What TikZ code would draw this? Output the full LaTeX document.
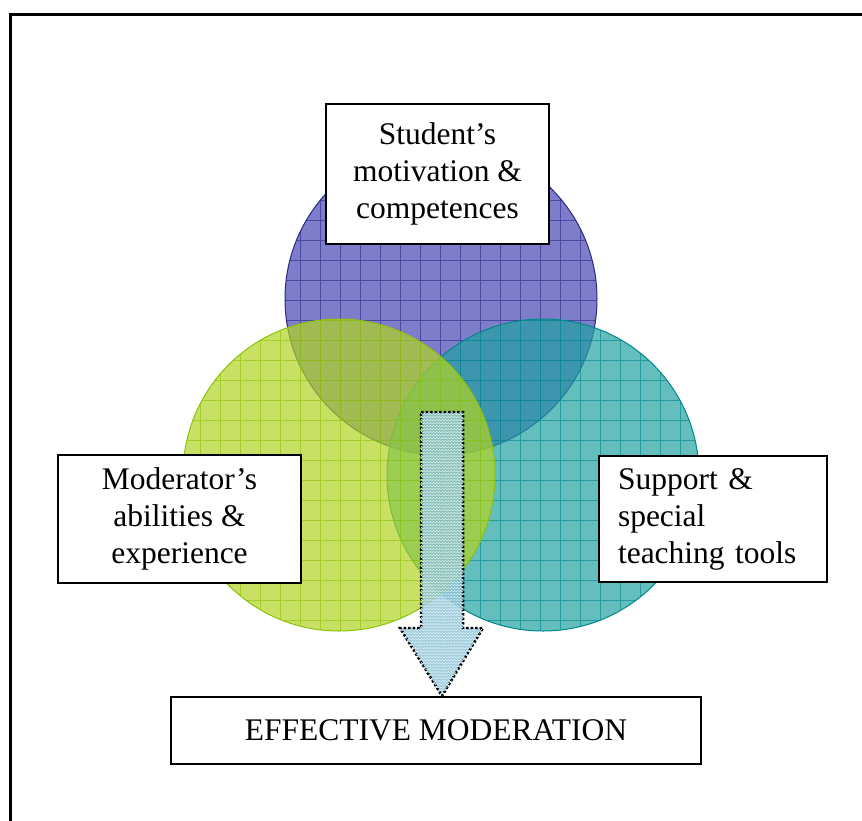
\documentclass[tikz,border=0pt]{standalone}
\usepackage{fontspec}
\setmainfont{Liberation Serif}
\usetikzlibrary{patterns}

\definecolor{studblue}{RGB}{70,70,178}
\definecolor{studline}{RGB}{40,40,135}
\definecolor{modgreen}{RGB}{177,212,34}
\definecolor{modline}{RGB}{140,195,10}
\definecolor{supteal}{RGB}{34,162,162}
\definecolor{supline}{RGB}{0,135,140}
\definecolor{arrowblue}{RGB}{140,195,215}

\tikzset{
  labelbox/.style  = {shape=rectangle, draw, line width=2pt, fill=white,
                      inner sep=0pt, font=\fontsize{31.5}{37}\selectfont},
  frameline/.style = {line width=3pt},
  arrowbody/.style = {fill=arrowblue, fill opacity=0.8, draw=black,
                      line width=2.5pt, dash pattern=on 2.5pt off 2pt,
                      postaction={pattern=crosshatch,
                                  pattern color=white!70!arrowblue}}
}

\begin{document}
\begin{tikzpicture}[x=1pt, y=-1pt]
\useasboundingbox (0,0) rectangle (862,820);
\draw[frameline] (10,830) -- (10,14) -- (872,14);

% the three circles, each with its grid
\foreach \cx/\cy/\fc/\lc in {441/299/studblue/studline,
                             543/475/supteal/supline,
                             339/475/modgreen/modline}{
  \begin{scope}
    \clip (\cx,\cy) circle [radius=156pt];
    \fill[\fc, fill opacity=0.7] (\cx,\cy) circle [radius=156pt];
    \draw[\lc, line width=0.9pt, opacity=0.6, step=20pt]
      (\cx-170,\cy-170) grid (\cx+170,\cy+170);
  \end{scope}
  \draw[\lc, line width=1pt] (\cx,\cy) circle [radius=156pt];
}

\node[labelbox, minimum width=223pt, minimum height=140pt, align=center]
  (student) at (437.5,174) {Student's\\motivation \&\\competences};
\node[labelbox, minimum width=243pt, minimum height=128pt, align=center]
  (moderator) at (179.5,519) {Moderator's\\abilities \&\\experience};
\node[labelbox, anchor=west, text width=190pt, inner xsep=19pt,
      minimum height=126pt, align=left]
  (support) at (598,519) {Support \&\\special\\teaching tools};
\node[labelbox, minimum width=530pt, minimum height=67pt]
  (moderation) at (436,730.5) {EFFECTIVE MODERATION};

\coordinate (tip) at (442,0 |- moderation.north);
\draw[arrowbody] (421,412) -- (463,412) -- (463,628) -- (483,628)
  -- (tip) -- (400,628) -- (421,628) -- cycle;
\end{tikzpicture}
\end{document}
